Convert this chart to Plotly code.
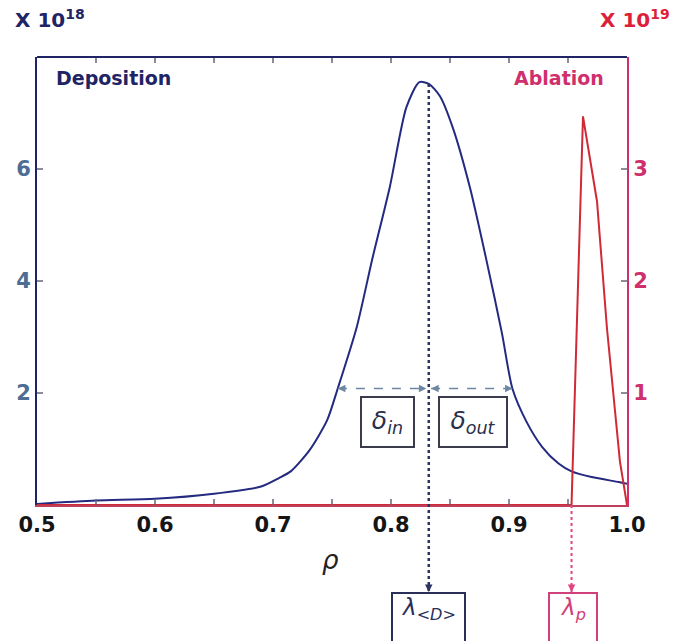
import plotly.graph_objects as go

# ---------------- data ----------------
rho_dep = [0.50, 0.55, 0.60, 0.65, 0.69, 0.705, 0.715, 0.731, 0.746, 0.755, 0.771,
           0.784, 0.799, 0.813, 0.824, 0.832, 0.8415, 0.8525, 0.867, 0.881, 0.894,
           0.903, 0.915, 0.928, 0.942, 0.953, 0.970, 0.993, 1.0]
deposition = [0.02, 0.08, 0.11, 0.20, 0.33, 0.48, 0.60, 0.98, 1.52, 2.09, 3.18,
              4.38, 5.68, 7.10, 7.55, 7.52, 7.30, 6.73, 5.66, 4.36, 3.07,
              2.07, 1.48, 1.04, 0.74, 0.60, 0.50, 0.41, 0.38]

rho_abl = [0.50, 0.953, 0.9627, 0.9746, 0.983, 0.994, 1.0]
ablation = [0.0, 0.0, 3.47, 2.71, 1.58, 0.39, 0.0]

x_tick_vals = [0.5, 0.6, 0.7, 0.8, 0.9, 1.0]
x_tick_text = ["0.5", "0.6", "0.7", "0.8", "0.9", "1.0"]
x_minor_tick_vals = [0.55, 0.65, 0.75, 0.85, 0.95]
dep_tick_vals = [2, 4, 6]
abl_tick_vals = [1, 2, 3]

lambda_D = 0.832       # deposition peak position
lambda_D_val = 7.52
lambda_p = 0.953       # ablation start
delta_in_edge = 0.755
delta_out_edge = 0.903
half_level = 2.08

X_RANGE = [0.5, 1.0]
DEP_RANGE = [0, 8]
ABL_RANGE = [0, 4]

NAVY = "#1f2466"
DEP_COLOR = "#242a80"
ABL_COLOR = "#cf2a35"
PINK = "#cf2f6c"
TICK_BLUE = "#4d6d93"
TICKC = "#666677"
FONT = "DejaVu Sans"
GREEK = "DejaVu Sans"

W, H = 682, 641
M = dict(l=37, r=55, t=57, b=136)
PLOT_W = W - M["l"] - M["r"]
PLOT_H = H - M["t"] - M["b"]
TICK_PX = 6

fig = go.Figure()
fig.add_trace(go.Scatter(x=rho_dep, y=deposition, mode="lines",
                         line=dict(color=DEP_COLOR, width=2, shape="spline",
                                   smoothing=0.7),
                         yaxis="y", showlegend=False, name="Deposition"))
fig.add_trace(go.Scatter(x=rho_abl, y=ablation, mode="lines",
                         line=dict(color=ABL_COLOR, width=2), yaxis="y2",
                         showlegend=False, name="Ablation"))

below = -(591 - 504) / 448.0   # paper y for bottom label boxes top

shapes = [
    dict(type="line", xref="x", yref="paper", x0=lambda_D, x1=lambda_D,
         y0=lambda_D_val / DEP_RANGE[1], y1=below,
         line=dict(color="#2c3563", width=2.5, dash="dot")),
    dict(type="line", xref="x", yref="paper", x0=lambda_p, x1=lambda_p,
         y0=0, y1=below, line=dict(color="#e0457f", width=2, dash="dot")),
    dict(type="line", xref="x", yref="y", x0=delta_in_edge, x1=lambda_D - 0.002,
         y0=half_level, y1=half_level,
         line=dict(color="#6f86a3", width=1.5, dash="dash")),
    dict(type="line", xref="x", yref="y", x0=lambda_D + 0.002, x1=delta_out_edge,
         y0=half_level, y1=half_level,
         line=dict(color="#6f86a3", width=1.5, dash="dash")),
]

# inside tick marks (bottom + top x, left y, right y2)
tx = TICK_PX / PLOT_H
ty = TICK_PX / PLOT_W
for v in sorted(x_tick_vals + x_minor_tick_vals):
    if X_RANGE[0] < v < X_RANGE[1]:
        for (a, b) in [(0, tx), (1, 1 - tx)]:
            shapes.append(dict(type="line", xref="x", yref="paper", x0=v, x1=v,
                               y0=a, y1=b, layer="above",
                               line=dict(color=TICKC, width=1.5)))
for v in dep_tick_vals:
    shapes.append(dict(type="line", xref="paper", yref="y", x0=0, x1=ty,
                       y0=v, y1=v, line=dict(color=TICKC, width=1.5)))
for v in abl_tick_vals:
    shapes.append(dict(type="line", xref="paper", yref="y2", x0=1, x1=1 - ty,
                       y0=v, y1=v, line=dict(color=TICKC, width=1.5)))

ann = []


def arrowhead(x, y, ax, ay, color, xref="x", yref="y"):
    ann.append(dict(x=x, y=y, xref=xref, yref=yref, ax=ax, ay=ay, text="",
                    showarrow=True, arrowhead=2, arrowsize=1, arrowwidth=1.5,
                    arrowcolor=color))


arrowhead(delta_in_edge, half_level, 9, 0, "#6f86a3")
arrowhead(lambda_D - 0.002, half_level, -9, 0, "#6f86a3")
arrowhead(lambda_D + 0.002, half_level, 9, 0, "#6f86a3")
arrowhead(delta_out_edge, half_level, -9, 0, "#6f86a3")
arrowhead(lambda_D, below, 0, -9, "#2c3563", yref="paper")
arrowhead(lambda_p, below, 0, -9, "#e0457f", yref="paper")

ann.append(dict(x=0.797, y=1.48, xref="x", yref="y", showarrow=False,
                text="<i>δ</i><sub><i>in</i></sub>",
                font=dict(family=GREEK, size=25, color="#2a2f4a"),
                width=51, height=48, bordercolor="#3a3c4c", borderwidth=2,
                borderpad=0, bgcolor="white"))
ann.append(dict(x=0.8695, y=1.48, xref="x", yref="y", showarrow=False,
                text="<i>δ</i><sub><i>out</i></sub>",
                font=dict(family=GREEK, size=25, color="#2a2f4a"),
                width=66, height=48, bordercolor="#3a3c4c", borderwidth=2,
                borderpad=0, bgcolor="white"))
ann.append(dict(x=lambda_D, y=below, xref="x", yref="paper", yanchor="top",
                showarrow=False,
                text="<i>λ</i><sub><i>&lt;D&gt;</i></sub>",
                font=dict(family=GREEK, size=23, color="#2a2f5a"),
                width=71, height=62, bordercolor="#2a2f5a", borderwidth=2,
                borderpad=0, bgcolor="white", valign="top"))
ann.append(dict(x=0.954, y=below, xref="x", yref="paper", yanchor="top",
                showarrow=False,
                text="<i>λ</i><sub><i>p</i></sub>",
                font=dict(family=GREEK, size=23, color="#d0407a"),
                width=46, height=62, bordercolor="#d0407a", borderwidth=2,
                borderpad=0, bgcolor="white", valign="top"))

ann.append(dict(x=-0.04, y=1.085, xref="paper", yref="paper", xanchor="left",
                yanchor="middle", showarrow=False, text="X 10<sup>18</sup>",
                font=dict(family=FONT, size=20, color=NAVY, weight="bold")))
ann.append(dict(x=0.95, y=1.085, xref="paper", yref="paper", xanchor="left",
                yanchor="middle", showarrow=False, text="X 10<sup>19</sup>",
                font=dict(family=FONT, size=20, color="#dc1f3a", weight="bold")))
ann.append(dict(x=0.028, y=0.953, xref="paper", yref="paper", xanchor="left",
                yanchor="middle", showarrow=False, text="Deposition",
                font=dict(family=FONT, size=19, color=NAVY, weight="bold")))
ann.append(dict(x=0.965, y=0.953, xref="paper", yref="paper", xanchor="right",
                yanchor="middle", showarrow=False, text="Ablation",
                font=dict(family=FONT, size=19, color=PINK, weight="bold")))
ann.append(dict(x=0.498, y=-0.123, xref="paper", yref="paper", xanchor="center",
                yanchor="middle", showarrow=False, text="<i>ρ</i>",
                font=dict(family=GREEK, size=26, color="#222222")))

tickfont_x = dict(family=FONT, size=21, color="#151515", weight="bold")

# top border line (navy) of the frame
shapes.append(dict(type="line", xref="paper", yref="paper", x0=0, x1=1,
                   y0=1, y1=1, line=dict(color=NAVY, width=2)))

fig.update_layout(
    width=W, height=H,
    margin=M,
    paper_bgcolor="white", plot_bgcolor="white",
    showlegend=False,
    xaxis=dict(range=X_RANGE, tickmode="array",
               tickvals=x_tick_vals, ticktext=x_tick_text, ticks="",
               showline=True, linecolor="#c0405c", linewidth=2,
               showgrid=False, zeroline=False, tickfont=tickfont_x,
               anchor="y", automargin=False),
    yaxis=dict(range=DEP_RANGE, tickmode="array", tickvals=dep_tick_vals,
               ticks="", automargin=False,
               showline=True, linecolor=NAVY, linewidth=2,
               showgrid=False, zeroline=False,
               tickfont=dict(family=FONT, size=21, color=TICK_BLUE, weight="bold")),
    yaxis2=dict(range=ABL_RANGE, tickmode="array", tickvals=abl_tick_vals,
                overlaying="y", side="right", anchor="x",
                ticks="", automargin=False,
                showline=True, linecolor=PINK, linewidth=2,
                showgrid=False, zeroline=False,
                tickfont=dict(family=FONT, size=21, color=PINK, weight="bold")),
    shapes=shapes,
    annotations=ann,
)

fig.write_html("out.html")
